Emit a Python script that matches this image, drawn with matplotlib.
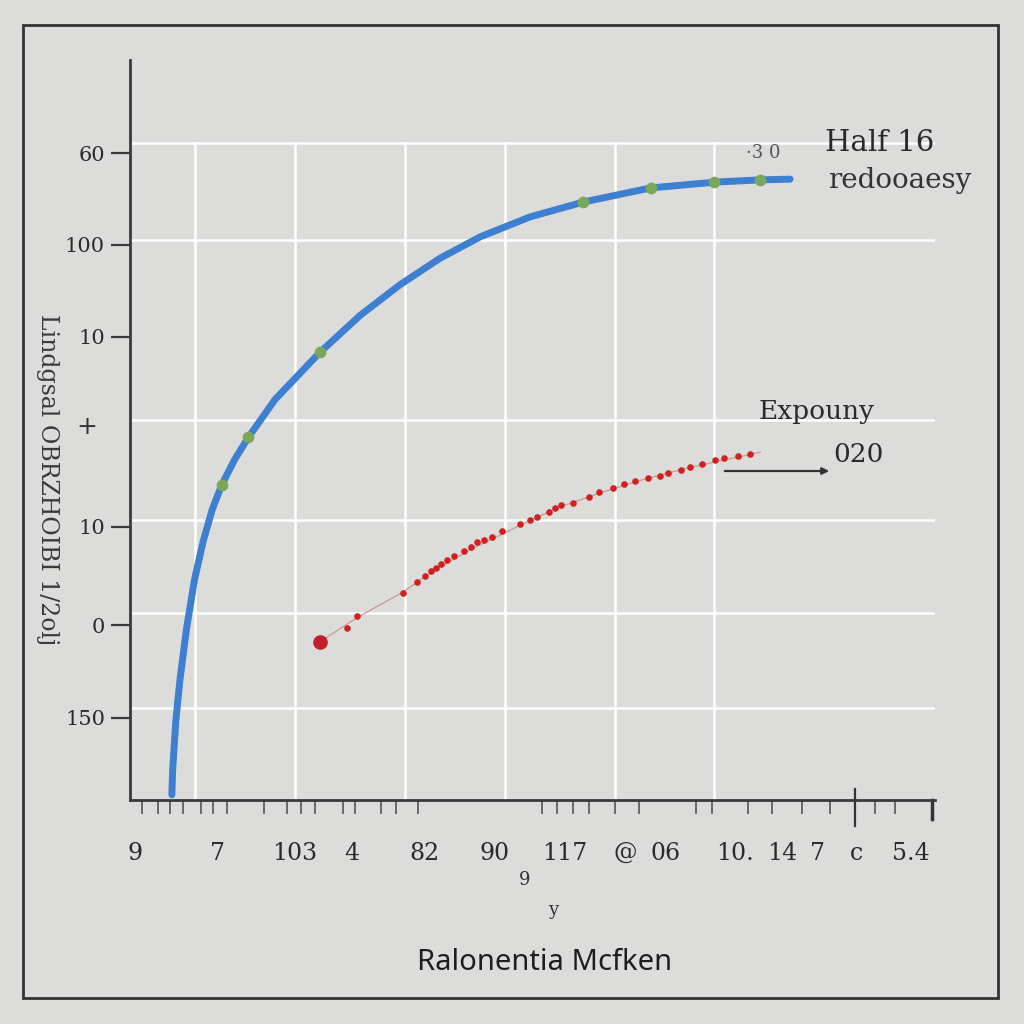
import matplotlib
matplotlib.use("Agg")
import matplotlib.pyplot as plt
from matplotlib.patches import Rectangle, FancyArrowPatch

# ---------------- data ----------------
blue_x = [5.2, 5.3, 5.7, 6.2, 7.0, 8.0, 9.1, 10.2, 11.4, 13.0, 14.7, 18.0, 23.6, 28.6, 33.5, 38.5,
          43.5, 49.7, 56.3, 64.6, 72.7, 78.3, 82.0]
blue_y = [0.7, 4.1, 10.8, 16.2, 23.0, 29.7, 35.0, 39.2, 42.6, 46.0, 49.0, 54.1, 60.5, 65.5, 69.6, 73.2,
          76.1, 78.8, 80.8, 82.7, 83.5, 83.8, 83.9]

green_x = [11.4, 14.7, 23.6, 56.3, 64.7, 72.6, 78.3]
green_y = [42.6, 49.0, 60.5, 80.8, 82.7, 83.5, 83.8]

red_line_x = [23.6, 28.3, 33.9, 37.9, 42.2, 46.0, 49.7, 53.4, 58.4, 63.4, 68.3, 72.7, 75.8, 78.3]
red_line_y = [21.4, 24.7, 28.1, 31.1, 33.8, 35.8, 37.8, 39.6, 41.5, 43.2, 44.6, 45.7, 46.4, 47.0]

red_dots_x = [27.0, 28.2, 33.9, 35.6, 36.6, 37.4, 38.0, 38.6, 39.4, 40.3, 41.5, 42.3, 43.1, 44.0,
              45.0, 46.2, 48.4, 49.7, 50.6, 52.0, 52.8, 53.5, 55.0, 57.0, 58.3, 60.0, 61.4,
              62.7, 64.4, 65.9, 66.8, 68.4, 69.6, 71.0, 72.7, 73.8, 75.5, 77.0]
red_dots_y = [23.2, 24.8, 28.0, 29.4, 30.3, 31.0, 31.4, 31.9, 32.4, 33.0, 33.6, 34.2, 34.8, 35.1,
              35.6, 36.3, 37.3, 37.8, 38.3, 38.9, 39.4, 39.8, 40.2, 40.9, 41.6, 42.1, 42.7,
              43.1, 43.5, 43.8, 44.2, 44.6, 45.0, 45.4, 45.9, 46.2, 46.5, 46.8]

red_start_x = [23.6]
red_start_y = [21.4]

x_tick_pos = [0.6, 10.9, 20.5, 27.6, 36.6, 45.3, 54.0, 61.5, 66.5, 75.2, 81.0, 85.4, 90.3, 97.0]
x_tick_labels = ["9", "7", "103", "4", "82", "90", "117", "@", "06", "10.", "14", "7", "c", "5.4"]
x_minor_pos = [1.5, 3.5, 5.0, 6.6, 8.8, 10.3, 12.0, 16.6, 19.5, 21.3, 23.0, 26.5, 28.0, 31.2, 33.0,
               35.8, 45.3, 51.2, 53.0, 55.0, 57.0, 60.2, 63.2, 70.3, 72.3, 76.8, 79.7, 83.5, 86.9, 92.5, 95.0]

y_tick_pos = [87.4, 75.0, 62.6, 36.9, 23.6, 11.1]
y_tick_labels = ["60", "100", "10", "10", "0", "150"]

grid_x = [8.1, 20.5, 34.2, 46.6, 60.2, 72.5]
grid_y = [88.8, 75.7, 51.4, 37.8, 25.3, 12.4]

BG = "#dcdcda"

fig = plt.figure(figsize=(10.24, 10.24), dpi=100, facecolor=BG)
W = H = 1024.0
def fx(px): return px / W
def fy(py): return 1 - py / H

ax = fig.add_axes([fx(130), fy(800), (935 - 130) / W, (800 - 60) / H], facecolor=BG)
ax.set_xlim(0, 100)
ax.set_ylim(0, 100)

for s in ["top", "right"]:
    ax.spines[s].set_visible(False)
for s in ["left", "bottom"]:
    ax.spines[s].set_color("#3a3a3a")
    ax.spines[s].set_linewidth(2)

# grid
for gx in grid_x:
    ax.axvline(gx, ymin=0.0, ymax=0.888, color="white", lw=1.8, zorder=1)
for gy in grid_y:
    ax.axhline(gy, xmin=0.0, xmax=1.0, color="white", lw=1.8, zorder=1)

# blue curve + green dots
ax.plot(blue_x, blue_y, color="#3d7fd0", lw=5.0, solid_capstyle="round",
        solid_joinstyle="round", zorder=3)
ax.scatter(green_x, green_y, s=55, color="#7aa85a", zorder=4)

# red trend
ax.plot(red_line_x, red_line_y, color="#c89a90", lw=0.9, zorder=3)
ax.scatter(red_dots_x, red_dots_y, s=14, color="#d02020", zorder=4)
ax.scatter(red_start_x, red_start_y, s=90, color="#c0202a", zorder=5)

# ticks
ax.set_xticks(x_tick_pos)
ax.set_xticklabels(x_tick_labels, family="DejaVu Serif", fontsize=17, color="#2a2a2a")
ax.set_xticks(x_minor_pos, minor=True)
ax.tick_params(axis="x", which="major", length=0, pad=30)
ax.tick_params(axis="x", which="minor", length=10, width=1.2, color="#555555", direction="out")
ax.set_yticks(y_tick_pos)
ax.set_yticklabels(y_tick_labels, family="DejaVu Serif", fontsize=15, color="#2a2a2a")
ax.tick_params(axis="y", which="major", length=14, width=1.6, color="#3a3a3a", pad=4)

# extra marks at right end of x axis
ax.plot([90.1, 90.1], [-0.035, 0.015], transform=ax.get_xaxis_transform(), color="#333333",
        lw=1.6, clip_on=False)
ax.plot([99.6, 99.6], [-0.025, 0.0], transform=ax.get_xaxis_transform(), color="#333333",
        lw=2.5, clip_on=False)

# annotations
fig.text(fx(880), fy(143), "Half 16", family="DejaVu Serif", fontsize=21, ha="center",
         va="center", color="#2a2a2a")
fig.text(fx(900), fy(180), "redooaesy", family="DejaVu Serif", fontsize=20, ha="center",
         va="center", color="#333333")
fig.text(fx(763), fy(153), "·3 0", family="DejaVu Serif", fontsize=13, ha="center",
         va="center", color="#555555")
fig.text(fx(817), fy(412), "Expouny", family="DejaVu Serif", fontsize=19, ha="center",
         va="center", color="#2a2a2a")
fig.text(fx(858), fy(455), "020", family="DejaVu Serif", fontsize=19, ha="center",
         va="center", color="#2a2a2a")
fig.add_artist(FancyArrowPatch((fx(722), fy(471)), (fx(832), fy(471)),
               transform=fig.transFigure, arrowstyle="-|>", mutation_scale=10,
               color="#333333", lw=1.6))
fig.text(fx(87), fy(427), "+", fontsize=18, ha="center", va="center", color="#333333")

fig.text(fx(525), fy(880), "9", family="DejaVu Serif", fontsize=13, ha="center", va="center",
         color="#333333")
fig.text(fx(553), fy(910), "y", family="DejaVu Serif", fontsize=13, ha="center", va="center",
         color="#333333")

fig.text(fx(545), fy(963), "Ralonentia Mcfken", family="Noto Sans", fontsize=21,
         ha="center", va="center", color="#1e1e1e")

fig.text(fx(47), fy(480), "Lindgsal OBRZHOIBI 1/2olj", family="DejaVu Serif", fontsize=17,
         rotation=-90, ha="center", va="center", color="#3a3a3a")

# outer frame
fig.add_artist(Rectangle((fx(23), fy(998)), (998 - 23) / W, (998 - 25) / H,
               transform=fig.transFigure, fill=False, edgecolor="#333333", lw=2))

fig.savefig("out.png", dpi=100, facecolor=BG)
